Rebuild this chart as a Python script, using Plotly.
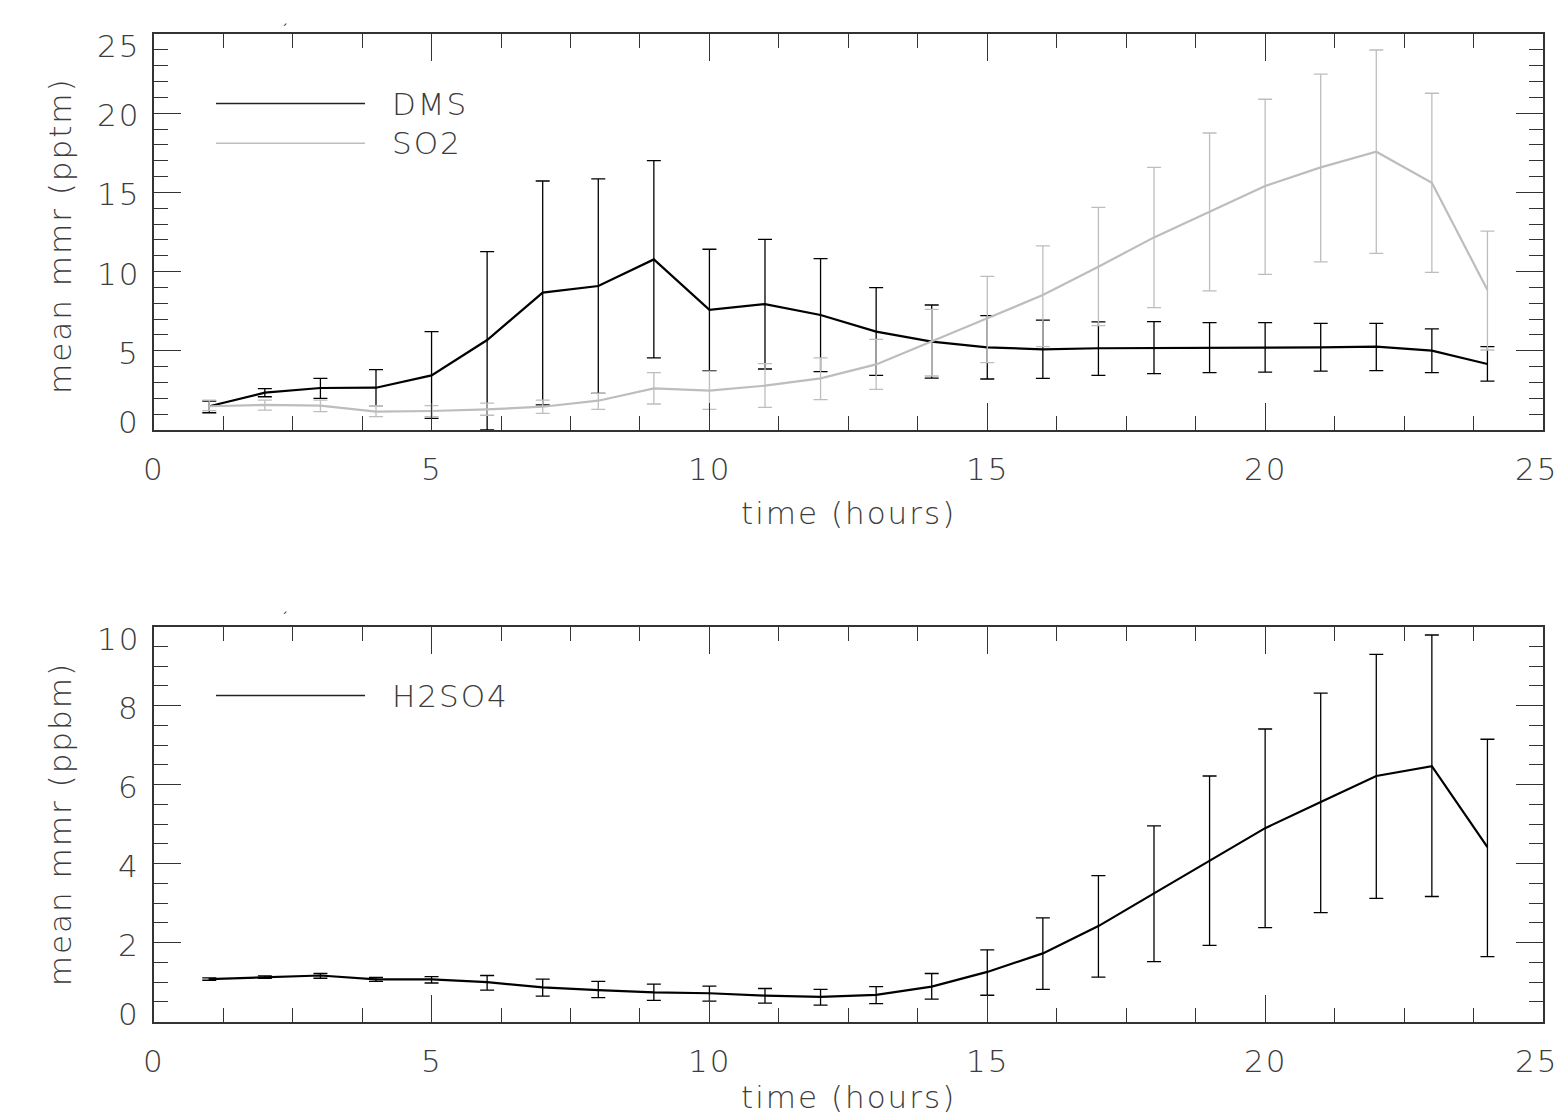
import plotly.graph_objects as go

# ---- data -------------------------------------------------------------
hours = list(range(1, 25))

dms_mean = [1.50, 2.36, 2.65, 2.67, 3.45, 5.68, 8.67, 9.09, 10.77, 7.58, 7.95, 7.26,
            6.21, 5.58, 5.22, 5.09, 5.16, 5.16, 5.16, 5.20, 5.22, 5.26, 5.01, 4.17]
dms_upper = [1.82, 2.61, 3.26, 3.81, 6.21, 11.26, 15.72, 15.85, 17.00, 11.41, 12.04, 10.82,
             8.99, 7.89, 7.22, 6.94, 6.82, 6.84, 6.78, 6.78, 6.73, 6.73, 6.38, 5.26]
dms_lower = [1.09, 2.10, 2.00, 1.54, 0.74, 0.00, 1.58, 2.31, 4.55, 3.75, 3.85, 3.68,
             3.45, 3.28, 3.22, 3.26, 3.45, 3.56, 3.62, 3.66, 3.72, 3.75, 3.62, 3.09]

so2_mean = [1.50, 1.58, 1.54, 1.16, 1.20, 1.30, 1.47, 1.85, 2.63, 2.48, 2.80, 3.26,
            4.14, 5.58, 7.05, 8.52, 10.31, 12.16, 13.78, 15.40, 16.58, 17.57, 15.61, 8.84]
so2_upper = [1.89, 1.89, 1.89, 1.54, 1.54, 1.70, 1.89, 2.31, 3.62, 3.72, 4.19, 4.55,
             5.72, 7.62, 9.70, 11.62, 14.06, 16.58, 18.75, 20.88, 22.47, 23.99, 21.26, 12.56]
so2_lower = [1.22, 1.26, 1.16, 0.84, 0.84, 0.93, 1.05, 1.30, 1.64, 1.30, 1.43, 1.92,
             2.57, 3.41, 4.25, 5.26, 6.59, 7.72, 8.78, 9.83, 10.61, 11.15, 9.95, 5.05]

h2so4_mean = [1.08, 1.13, 1.17, 1.07, 1.07, 1.00, 0.87, 0.80, 0.74, 0.72, 0.66, 0.63,
              0.68, 0.89, 1.26, 1.73, 2.42, 3.25, 4.08, 4.90, 5.56, 6.22, 6.47, 4.42]
h2so4_upper = [1.11, 1.16, 1.22, 1.12, 1.14, 1.17, 1.08, 1.02, 0.95, 0.90, 0.84, 0.82,
               0.89, 1.22, 1.82, 2.63, 3.70, 4.96, 6.22, 7.41, 8.32, 9.30, 9.79, 7.15]
h2so4_lower = [1.05, 1.10, 1.10, 1.02, 0.98, 0.80, 0.65, 0.61, 0.54, 0.52, 0.47, 0.42,
               0.46, 0.57, 0.67, 0.82, 1.13, 1.52, 1.93, 2.38, 2.76, 3.12, 3.17, 1.65]

x_ticks = [0, 5, 10, 15, 20, 25]
x_tick_labels = ["0", "5", "10", "15", "20", "25"]
top_y_ticks = [0, 5, 10, 15, 20, 25]
top_y_tick_labels = ["0", "5", "10", "15", "20", "25"]
bot_y_ticks = [0, 2, 4, 6, 8, 10]
bot_y_tick_labels = ["0", "2", "4", "6", "8", "10"]

# ---- styling ----------------------------------------------------------
W, H = 1561, 1116
FONT = "DejaVu Sans"
TXT = "#3c3c3c"
AX = "#333333"
GRAY = "#bdbdbd"
FS = 31

X0, X1 = 153.7, 1543.0
TOP_T, TOP_B = 34.0, 430.0
BOT_T, BOT_B = 626.7, 1021.7


def px(x):
    return x / W


def py(y):
    return 1 - y / H


def spaced(t):
    # wide, evenly spaced lettering
    return '<span style="letter-spacing:2px">' + t + "</span>"


def err(mean, upper, lower):
    return ([u - m for u, m in zip(upper, mean)],
            [m - l for m, l in zip(mean, lower)])


fig = go.Figure()


def add_series(mean, upper, lower, color, xa, ya):
    plus, minus = err(mean, upper, lower)
    fig.add_trace(go.Scatter(
        x=hours, y=mean, mode="lines", xaxis=xa, yaxis=ya,
        line=dict(color=color, width=2.2),
        error_y=dict(type="data", symmetric=False, array=plus, arrayminus=minus,
                     color=color, thickness=1.3, width=7),
        showlegend=False, hoverinfo="skip", cliponaxis=False,
    ))


add_series(dms_mean, dms_upper, dms_lower, "#000000", "x", "y")
add_series(so2_mean, so2_upper, so2_lower, GRAY, "x", "y")
add_series(h2so4_mean, h2so4_upper, h2so4_lower, "#000000", "x2", "y2")


def axis_common(dtick, minor_dtick, rng, domain, anchor):
    return dict(
        range=rng, domain=domain, anchor=anchor,
        showline=True, linecolor=AX, linewidth=1.6, mirror="allticks",
        ticks="inside", ticklen=27, tickwidth=1.3, tickcolor=AX,
        tick0=0, dtick=dtick,
        minor=dict(ticks="inside", ticklen=14, tickwidth=1.2, tickcolor=AX,
                   dtick=minor_dtick, tick0=0, showgrid=False),
        showticklabels=False, showgrid=False, zeroline=False, automargin=False,
        fixedrange=True,
    )


fig.update_layout(
    width=W, height=H,
    margin=dict(l=0, r=0, t=0, b=0),
    paper_bgcolor="white", plot_bgcolor="white",
    font=dict(family=FONT, size=FS, color=TXT),
    xaxis=axis_common(5, 1.25, [0, 25], [px(X0), px(X1)], "y"),
    yaxis=axis_common(5, 1, [0, 25], [py(TOP_B), py(TOP_T)], "x"),
    xaxis2=axis_common(5, 1.25, [0, 25], [px(X0), px(X1)], "y2"),
    yaxis2=axis_common(2, 0.5, [0, 10], [py(BOT_B), py(BOT_T)], "x2"),
)

ann = []
font = dict(family=FONT, size=FS, color=TXT, weight=200)

# x tick labels below each panel (the last one kept inside the page edge)
for xa, ya in (("x", "y"), ("x2", "y2")):
    n = len(x_ticks)
    for i, (v, t) in enumerate(zip(x_ticks, x_tick_labels)):
        ann.append(dict(text=spaced(t), x=v, xref=xa, y=0, yref=ya, showarrow=False,
                        xanchor="center", yanchor="middle", font=font, yshift=-39,
                        xshift=-7 if i == n - 1 else 0))

# y tick labels (end labels pulled slightly inside the frame)
for ya, xa, ticks, labels in (("y", "x", top_y_ticks, top_y_tick_labels),
                              ("y2", "x2", bot_y_ticks, bot_y_tick_labels)):
    n = len(ticks)
    for i, (v, t) in enumerate(zip(ticks, labels)):
        shift = 8 if i == 0 else (-12 if i == n - 1 else -2)
        ann.append(dict(text=spaced(t), x=0, xref=xa, y=v, yref=ya, showarrow=False,
                        xanchor="right", yanchor="middle", font=font,
                        xshift=-12, yshift=shift))

# axis titles
ann += [
    dict(text=spaced("time (hours)"), x=(X0 + X1) / 2 / W, xref="paper", y=py(513),
         yref="paper", showarrow=False, xanchor="center", yanchor="middle", font=font),
    dict(text=spaced("time (hours)"), x=(X0 + X1) / 2 / W, xref="paper", y=py(1097),
         yref="paper", showarrow=False, xanchor="center", yanchor="middle", font=font),
    dict(text=spaced("mean mmr (pptm)"), x=px(60), xref="paper",
         y=py((TOP_T + TOP_B) / 2 + 4), yref="paper", showarrow=False, textangle=-90,
         xanchor="center", yanchor="middle", font=font),
    dict(text=spaced("mean mmr (ppbm)"), x=px(60), xref="paper",
         y=py((BOT_T + BOT_B) / 2), yref="paper", showarrow=False, textangle=-90,
         xanchor="center", yanchor="middle", font=font),
    # small title marks above each panel
    dict(text="´", x=px(279), xref="paper", y=py(20), yref="paper", showarrow=False,
         font=dict(family=FONT, size=14, color=TXT)),
    dict(text="´", x=px(279), xref="paper", y=py(618), yref="paper", showarrow=False,
         font=dict(family=FONT, size=14, color=TXT)),
]

# legends
legend_items = [
    ("DMS", "#222222", 103.5),
    ("SO2", GRAY, 143.3),
    ("H2SO4", "#222222", 695.5),
]
shapes = []
for name, color, yy in legend_items:
    shapes.append(dict(type="line", xref="paper", yref="paper",
                       x0=px(216), x1=px(365), y0=py(yy), y1=py(yy),
                       line=dict(color=color, width=1.4)))
    ann.append(dict(text=spaced(name), x=px(390), xref="paper", y=py(yy), yref="paper",
                    showarrow=False, xanchor="left", yanchor="middle", font=font))

fig.update_layout(annotations=ann, shapes=shapes)

fig.write_html("out.html")
